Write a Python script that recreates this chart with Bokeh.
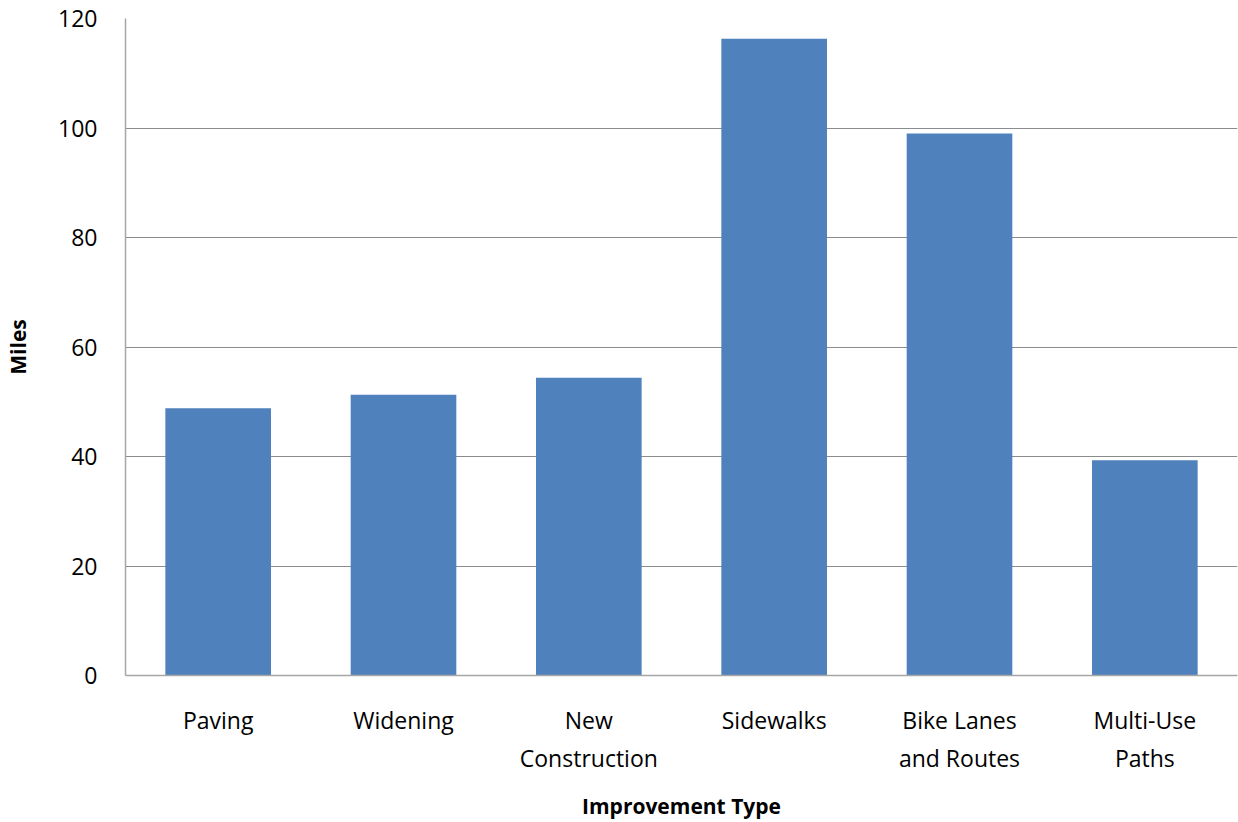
from bokeh.plotting import figure
from bokeh.models import ColumnDataSource, FactorRange, SingleIntervalTicker
from bokeh.embed import file_html
from bokeh.resources import INLINE

categories = ["Paving", "Widening", "New\nConstruction", "Sidewalks", "Bike Lanes\nand Routes", "Multi-Use\nPaths"]
miles = [48.8, 51.3, 54.4, 116.3, 99.0, 39.3]

source = ColumnDataSource(data=dict(cat=categories, miles=miles))

p = figure(x_range=FactorRange(*categories), y_range=(0, 120),
           width=1238, height=822, output_backend="svg", toolbar_location=None,
           min_border_left=125, min_border_right=1, min_border_top=18, min_border_bottom=147)
p.vbar(x="cat", top="miles", width=0.57, source=source, color="#4F81BD", line_color=None)

FONT = "Open Sans"
p.outline_line_color = None
p.xgrid.grid_line_color = None
p.ygrid.grid_line_color = "#8C8C8C"
p.ygrid.grid_line_width = 1
p.yaxis.ticker = SingleIntervalTicker(interval=20)
p.x_range.range_padding = 0
p.x_range.group_padding = 0

for ax in (p.xaxis[0], p.yaxis[0]):
    ax.axis_line_color = "#A6A6A6"
    ax.axis_line_width = 1.5
    ax.major_tick_line_color = None
    ax.minor_tick_line_color = None
    ax.major_label_text_font = FONT
    ax.major_label_text_font_size = "23px"
    ax.major_label_text_color = "#000000"
    ax.axis_label_text_font = FONT
    ax.axis_label_text_font_size = "21px"
    ax.axis_label_text_font_style = "bold"
    ax.axis_label_text_color = "#000000"

p.yaxis.axis_label = "Miles"
p.xaxis.axis_label = "Improvement Type"
p.yaxis.major_label_standoff = 22
p.xaxis.major_label_standoff = 22
p.xaxis.axis_label_standoff = 15
p.yaxis.axis_label_standoff = 23

open("out.html", "w").write(file_html(p, INLINE))
